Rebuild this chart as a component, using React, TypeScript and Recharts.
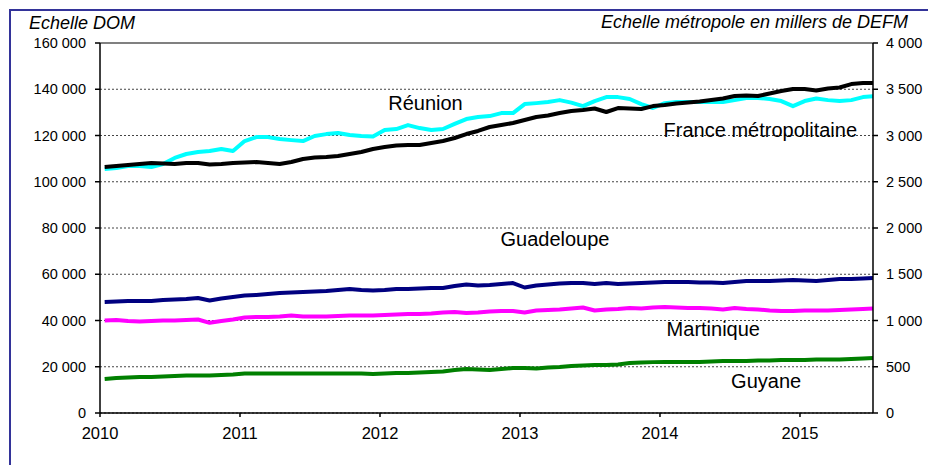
import React from 'react';
import { LineChart, Line, XAxis, YAxis, CartesianGrid, ReferenceLine, ReferenceDot } from 'recharts';

// Monthly categories, Jan 2010 onwards
const monthLabels: string[] = [];
for (let y = 2010; y <= 2015; y++) {
  for (let m = 1; m <= 12; m++) {
    if (monthLabels.length < 67) monthLabels.push(`${y}-${String(m).padStart(2, '0')}`);
  }
}

// DOM series (left scale, number of DEFM)
const reunion = [
  105500, 105900, 106800, 106800, 106400, 107700, 110300, 112000, 112900, 113300,
  114200, 113300, 117600, 119300, 119300, 118500, 118000, 117600, 119800, 120600,
  121100, 120200, 119800, 119600, 122400, 122800, 124500, 123200, 122400, 122800,
  125000, 127100, 128000, 128400, 129700, 129700, 133600, 134000, 134500, 135300,
  134200, 132700, 134900, 136600, 136600, 135800, 133600, 131900, 134000, 134500,
  134500, 134500, 134500, 134500, 135300, 136200, 136200, 135800, 134900, 132700,
  134900, 136000, 135300, 134900, 135300, 136600, 137000,
];
const guadeloupe = [
  48000, 48210, 48430, 48430, 48430, 48860, 49080, 49290, 49730, 48650,
  49510, 50160, 50810, 51020, 51460, 51890, 52100, 52320, 52540, 52750,
  53190, 53620, 53190, 52970, 53190, 53620, 53620, 53830, 54050, 54050,
  54910, 55560, 55130, 55350, 55780, 56210, 54270, 55130, 55560, 56000,
  56210, 56210, 55780, 56210, 55780, 56000, 56210, 56430, 56640, 56640,
  56640, 56430, 56430, 56210, 56640, 57080, 57080, 57080, 57290, 57510,
  57290, 57080, 57510, 57940, 57940, 58160, 58370,
];
const martinique = [
  40000, 40210, 39780, 39560, 39780, 40000, 40000, 40210, 40430, 39000,
  39780, 40430, 41290, 41510, 41510, 41730, 42160, 41730, 41730, 41730,
  41940, 42160, 42160, 42160, 42380, 42590, 42810, 42810, 43020, 43460,
  43670, 43240, 43460, 43890, 44100, 44100, 43460, 44320, 44540, 44750,
  45190, 45620, 44320, 44750, 44970, 45400, 45190, 45620, 45830, 45620,
  45400, 45400, 45190, 44750, 45400, 44970, 44750, 44320, 44100, 44100,
  44320, 44320, 44320, 44540, 44750, 44970, 45190,
];
const guyane = [
  14700, 15130, 15350, 15570, 15570, 15780, 16000, 16220, 16220, 16220,
  16430, 16650, 17080, 17080, 17080, 17080, 17080, 17080, 17080, 17080,
  17080, 17080, 17080, 16860, 17080, 17300, 17300, 17510, 17730, 17950,
  18590, 19030, 18810, 18590, 19030, 19460, 19460, 19240, 19670, 19890,
  20320, 20540, 20760, 20760, 21000, 21600, 21800, 22000, 22050, 22050,
  22050, 22050, 22270, 22480, 22480, 22480, 22700, 22700, 22920, 22920,
  22920, 23130, 23130, 23130, 23350, 23570, 23780,
];
// France métropolitaine (right scale, thousands of DEFM)
const franceMetro = [
  2659, 2670, 2681, 2692, 2703, 2697, 2692, 2703, 2703, 2686,
  2692, 2703, 2708, 2713, 2703, 2692, 2713, 2746, 2762, 2767,
  2778, 2800, 2821, 2854, 2875, 2892, 2897, 2897, 2919, 2940,
  2973, 3016, 3049, 3092, 3113, 3135, 3167, 3200, 3216, 3243,
  3265, 3275, 3292, 3254, 3297, 3292, 3286, 3318, 3329, 3346,
  3356, 3367, 3383, 3400, 3427, 3432, 3427, 3454, 3481, 3502,
  3502, 3486, 3508, 3519, 3556, 3567, 3567,
];

const yearTicks = [0, 12, 24, 36, 48, 60];
const yearLabels = ['2010', '2011', '2012', '2013', '2014', '2015'];
const domTicks = [0, 20000, 40000, 60000, 80000, 100000, 120000, 140000, 160000];
const metroTicks = [0, 500, 1000, 1500, 2000, 2500, 3000, 3500, 4000];

const fmt = (n: number) => String(n).replace(/\B(?=(\d{3})+(?!\d))/g, ' ');

const data = monthLabels.map((label, i) => ({
  label,
  t: i + 0.4,
  reunion: reunion[i],
  guadeloupe: guadeloupe[i],
  martinique: martinique[i],
  guyane: guyane[i],
  france: franceMetro[i],
}));

const FONT = '"Liberation Sans", Arial, sans-serif';
const labelStyle = (value: string) => ({ value, position: 'center' as const, fill: '#000', fontSize: 20 });

export default function App() {
  return (
    <div style={{ position: 'absolute', left: 0, top: 0, width: 928, height: 465, overflow: 'hidden', background: '#fff', fontFamily: FONT }}>
      <div style={{ position: 'absolute', left: 9, top: 9, width: 1000, height: 1000, borderTop: '2px solid #333399', borderLeft: '2px solid #333399' }} />
      <div style={{ position: 'absolute', left: 0, top: 0 }}>
        <LineChart width={928} height={465} data={data} margin={{ top: 43, right: 10, bottom: 12, left: 10 }}>
          <CartesianGrid yAxisId="left" vertical={false} stroke="#444" strokeDasharray="2 2" />
          <XAxis
            dataKey="t"
            type="number"
            domain={[0, 66.26]}
            allowDataOverflow
            ticks={yearTicks}
            interval={0}
            tickFormatter={(v: number) => yearLabels[yearTicks.indexOf(v)] ?? ''}
            tickSize={4}
            tickMargin={10}
            height={40}
            stroke="#000"
            strokeWidth={1.5}
            tick={{ fill: '#000', fontSize: 16.5 }}
          />
          <YAxis
            yAxisId="left"
            orientation="left"
            width={90}
            domain={[0, 160000]}
            ticks={domTicks}
            interval={0}
            tickFormatter={fmt}
            tickSize={5}
            tickMargin={9}
            stroke="#000"
            strokeWidth={1.5}
            tick={{ fill: '#000', fontSize: 14.5 }}
          />
          <YAxis
            yAxisId="right"
            orientation="right"
            width={45}
            domain={[0, 4000]}
            ticks={metroTicks}
            interval={0}
            tickFormatter={fmt}
            tickSize={5}
            tickMargin={8}
            stroke="#000"
            strokeWidth={1.5}
            tick={{ fill: '#000', fontSize: 14.5 }}
          />
          <ReferenceLine yAxisId="left" y={160000} stroke="#808080" strokeWidth={2} />
          <Line yAxisId="left" dataKey="guyane" stroke="#008000" strokeWidth={4} dot={false} isAnimationActive={false} strokeLinejoin="round" />
          <Line yAxisId="left" dataKey="martinique" stroke="#FF00FF" strokeWidth={4} dot={false} isAnimationActive={false} strokeLinejoin="round" />
          <Line yAxisId="left" dataKey="guadeloupe" stroke="#000080" strokeWidth={4} dot={false} isAnimationActive={false} strokeLinejoin="round" />
          <Line yAxisId="left" dataKey="reunion" stroke="#00FFFF" strokeWidth={4} dot={false} isAnimationActive={false} strokeLinejoin="round" />
          <Line yAxisId="right" dataKey="france" stroke="#000000" strokeWidth={4} dot={false} isAnimationActive={false} strokeLinejoin="round" />
          <ReferenceDot yAxisId="left" x={27.9} y={134260} r={0} fill="none" stroke="none" label={labelStyle('Réunion')} />
          <ReferenceDot yAxisId="left" x={56.6} y={122370} r={0} fill="none" stroke="none" label={labelStyle('France métropolitaine')} />
          <ReferenceDot yAxisId="left" x={39.0} y={75450} r={0} fill="none" stroke="none" label={labelStyle('Guadeloupe')} />
          <ReferenceDot yAxisId="left" x={52.57} y={36540} r={0} fill="none" stroke="none" label={labelStyle('Martinique')} />
          <ReferenceDot yAxisId="left" x={57.1} y={13840} r={0} fill="none" stroke="none" label={labelStyle('Guyane')} />
        </LineChart>
      </div>
      <svg width={928} height={465} style={{ position: 'absolute', left: 0, top: 0, pointerEvents: 'none' }}>
        <text x={29} y={29} fontSize={18} fontStyle="italic" fill="#000" fontFamily={FONT}>Echelle DOM</text>
        <text x={908} y={28} fontSize={18} fontStyle="italic" fill="#000" textAnchor="end" fontFamily={FONT}>Echelle métropole en millers de DEFM</text>
      </svg>
    </div>
  );
}
